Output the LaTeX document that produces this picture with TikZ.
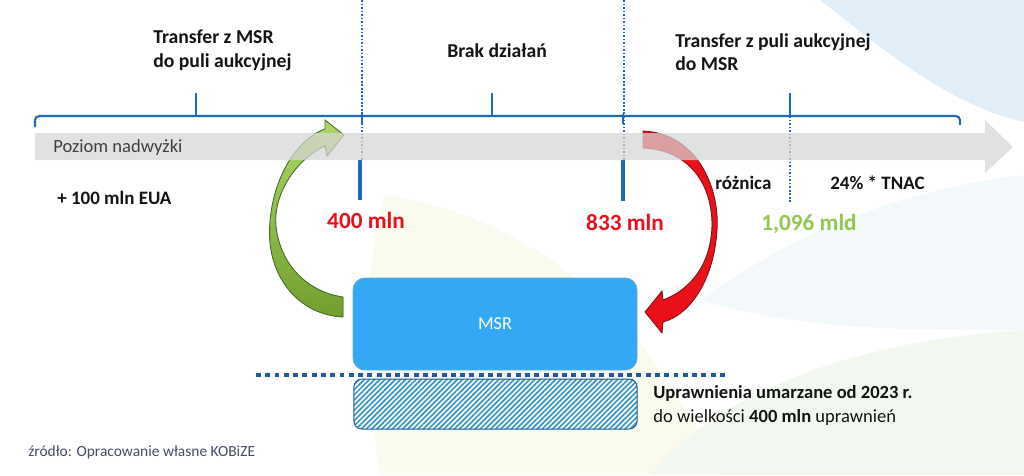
\documentclass[tikz,border=0pt]{standalone}
\usepackage{fontspec}
\setmainfont{Carlito}
\usepackage{tikz}
\usetikzlibrary{positioning,patterns.meta}
\definecolor{ksBlue}   {RGB}{ 31,106,178}
\definecolor{ksBlueDk} {RGB}{ 28, 92,158}
\definecolor{ksMsr}    {RGB}{ 52,168,245}
\definecolor{ksMsrEdge}{RGB}{ 90,175,200}
\definecolor{ksHatch}  {RGB}{ 58,150,200}
\definecolor{ksGrey}   {RGB}{214,214,214}
\definecolor{ksInk}    {RGB}{ 20, 20, 20}
\definecolor{ksInkL}   {RGB}{ 64, 64, 64}
\definecolor{ksSrc}    {RGB}{ 70, 75,100}
\definecolor{ksRed}    {RGB}{234, 16, 26}
\definecolor{ksRedDk}  {RGB}{120, 20, 25}
\definecolor{ksGreen}  {RGB}{146,200, 80}
\definecolor{ksGreenA} {RGB}{114,158, 48}
\definecolor{ksGreenB} {RGB}{172,214,104}
\definecolor{ksGreenDk}{RGB}{ 72,110, 40}
\definecolor{ksSky}    {RGB}{226,238,247}
\definecolor{ksSkyL}   {RGB}{243,248,251}
\definecolor{ksMint}   {RGB}{250,250,238}
\definecolor{ksMintB}  {RGB}{242,247,240}

\begin{document}
\begin{tikzpicture}[x=0.25mm,y=-0.25mm,
    every node/.style={inner sep=0pt,text=ksInk},
    head/.style={font=\fontsize{14}{17}\selectfont\bfseries,align=left,anchor=north west},
    val/.style={font=\fontsize{13.5}{16}\selectfont\bfseries,anchor=base west},
    big/.style={font=\fontsize{16.5}{19}\selectfont\bfseries,anchor=base},
    brace/.style={ksBlue,line width=1.5pt,rounded corners=3pt},
    vdots/.style={ksBlue,line width=1.5pt,dash pattern=on 1.2pt off 1.3pt},
    lvlbar/.style={ksBlue,line width=3pt},
    sqdots/.style={ksBlueDk,line width=3.2pt,dash pattern=on 3.5pt off 3.1pt},
    msrbox/.style={rectangle,rounded corners=3mm,minimum width=71mm,
                   minimum height=23mm,fill=ksMsr,draw=ksMsrEdge,line width=0.6pt,
                   text=white,font=\fontsize{13}{15}\selectfont},
    burnbox/.style={rectangle,rounded corners=2mm,minimum width=70.8mm,
                    minimum height=12.5mm,draw=ksBlueDk,line width=0.7pt,
                    pattern={Lines[angle=45,distance=2.6pt,line width=1.2pt]},
                    pattern color=ksHatch}
  ]
  \useasboundingbox (0,0) rectangle (1024,475);
  % Background tints
  \fill[ksSky] (820,0) .. controls (890,55) and (950,105) .. (1024,122) -- (1024,0) -- cycle;
  \fill[ksSkyL] (700,300) .. controls (800,230) and (900,190) .. (1024,175) -- (1024,330)
    .. controls (900,330) and (800,330) .. (700,300) -- cycle;
  \fill[ksMint] (380,475) .. controls (362,360) and (366,250) .. (385,195)
    .. controls (520,215) and (640,300) .. (720,475) -- cycle;
  \fill[ksMintB] (650,475) .. controls (720,390) and (860,340) .. (1024,330) -- (1024,475) -- cycle;
  % Curved arrows
  \filldraw[draw=ksGreenDk,line width=0.6pt,top color=ksGreenB,bottom color=ksGreenA]
    (325,146) .. controls (295,160) and (273,195) .. (276,226)
    .. controls (280,265) and (308,292) .. (343,297) -- (343,317)
    .. controls (298,315) and (265,275) .. (270,222)
    .. controls (273,180) and (295,140) .. (325,129)
    -- (325,120) -- (344,135) -- (327,156) -- cycle;
  \filldraw[draw=ksRedDk,line width=0.6pt,fill=ksRed]
    (643,131) .. controls (695,133) and (720,185) .. (717,230)
    .. controls (714,280) and (690,315) .. (663,322)
    -- (662,333) -- (645,312) -- (662,291) -- (663,300)
    .. controls (690,290) and (711,265) .. (712,225)
    .. controls (712,185) and (690,150) .. (643,148) -- cycle;
  % Levels
  \draw[vdots] (362,0) -- (362,160);
  \draw[vdots] (624,0) -- (624,160);
  \draw[vdots] (790,116) -- (790,202);
  \draw[lvlbar] (360,160) -- (360,200);
  \draw[lvlbar] (623,160) -- (623,201);
  % Surplus band
  \fill[ksGrey,opacity=0.72] (35,133) -- (985,133) -- (985,120) -- (1013,147)
    -- (985,173) -- (985,160) -- (35,160) -- cycle;
  \node[text=ksInkL,font=\fontsize{13.2}{16}\selectfont,anchor=base west]
    (surplus) at (53,152) {Poziom nadwyżki};
  % Braces
  \draw[brace] (35,127) -- (35,116) -- (960,116) -- (960,125);
  \foreach \x in {196,492,790} \draw[brace] (\x,116) -- (\x,93);
  \foreach \x in {362,623} \draw[ksBlue,line width=2pt] (\x,114) -- (\x,124);
  % Ranges
  \node[head] (tLeft)  at (153,30) {Transfer z MSR\\do puli aukcyjnej};
  \node[head] (tMid)   at (447,43) {Brak działań};
  \node[head] (tRight) at (675,33) {Transfer z puli aukcyjnej\\do MSR};
  % Values
  \node[val] (plus100) at (57,204)  {+ 100 mln EUA};
  \node[big,text=ksRed] (v400)  at (366,228) {400 mln};
  \node[big,text=ksRed] (v833)  at (625,230) {833 mln};
  \node[val] (diff)    at (715,189) {różnica};
  \node[val] (tnac)    at (830,189) {24\% * TNAC};
  \node[big,text=ksGreen] (v1096) at (809,230) {1,096 mld};
  % Reserve
  \node[msrbox] (msr) at (495,324) {MSR};
  \draw[sqdots] (256,375) -- (725,375);
  \node[burnbox] (burn) at (495.5,404) {};
  \node[font=\fontsize{13.2}{17}\selectfont,align=left,anchor=north west]
    (burnTxt) at (653,385) {\textbf{Uprawnienia umarzane od 2023 r.}\\do wielkości \textbf{400 mln} uprawnień};
  \node[text=ksSrc,font=\fontsize{11}{13}\selectfont,anchor=base west]
    (src) at (28,456) {źródło: Opracowanie własne KOBiZE};
\end{tikzpicture}
\end{document}
